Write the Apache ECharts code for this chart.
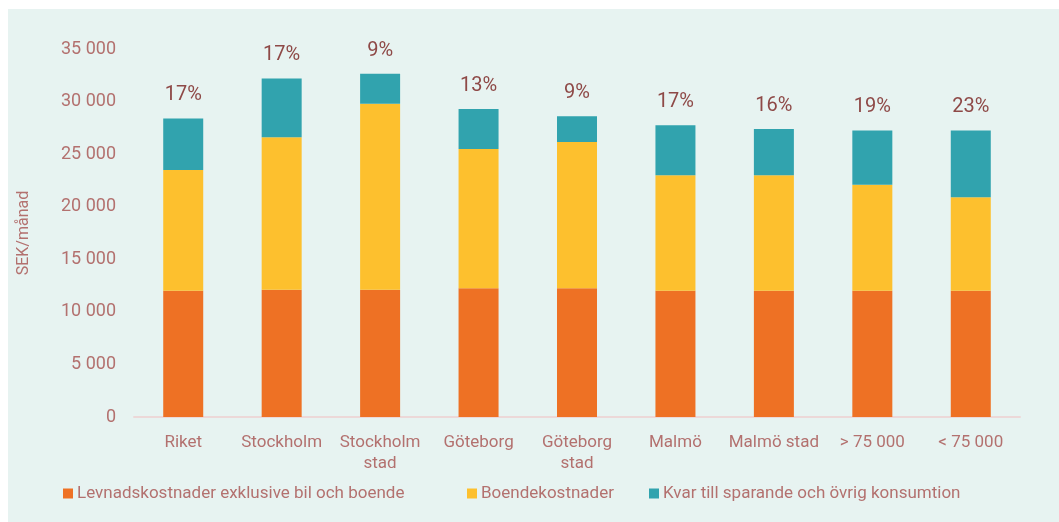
<!DOCTYPE html>
<html>
<head>
<meta charset="utf-8">
<script src="https://cdn.jsdelivr.net/npm/echarts@6/dist/echarts.min.js"></script>
<style>
  html, body { margin: 0; padding: 0; background: #ffffff; }
  #chart { position: absolute; left: 8px; top: 9px; width: 1051px; height: 513px; }
</style>
</head>
<body>
<div id="chart"></div>
<script>
"use strict";

// categories on the x axis
var categories = ["Riket", "Stockholm", "Stockholm\nstad", "Göteborg", "Göteborg\nstad",
  "Malmö", "Malmö stad", "> 75 000", "< 75 000"];

// SEK per month, stacked
var levnad = [12000, 12100, 12100, 12250, 12250, 12000, 12000, 12000, 12000];
var boende = [11500, 14500, 17700, 13250, 13900, 11000, 11000, 10100, 8900];
var kvar = [4900, 5600, 2850, 3800, 2450, 4750, 4400, 5150, 6350];

// share left over, shown above each bar
var shareLabels = ["17%", "17%", "9%", "13%", "9%", "17%", "16%", "19%", "23%"];

var seriesNames = ["Levnadskostnader exklusive bil och boende", "Boendekostnader",
  "Kvar till sparande och övrig konsumtion"];

var axisColor = "#b3716f";
var font = "Roboto, 'Noto Sans', sans-serif";

var chart = echarts.init(document.getElementById("chart"));

// one legend per item so the uneven gaps of the original can be kept
function legendAt(name, left) {
  return {
    data: [name],
    left: left,
    top: 476,
    padding: 0,
    icon: "rect",
    itemWidth: 10,
    itemHeight: 10,
    itemGap: 0,
    textStyle: { color: axisColor, fontSize: 17, fontFamily: font, padding: [0, 0, 0, -1] }
  };
}

var option = {
  backgroundColor: "#e7f3f1",
  animation: false,
  grid: { left: 126, right: 39, top: 40, bottom: 105 },
  legend: [
    legendAt(seriesNames[0], 55),
    legendAt(seriesNames[1], 459),
    legendAt(seriesNames[2], 641)
  ],
  xAxis: {
    type: "category",
    data: categories,
    axisTick: { show: false },
    axisLine: { lineStyle: { color: "#ecd8d8", width: 2 } },
    axisLabel: { interval: 0, color: axisColor, fontSize: 17, fontFamily: font, margin: 15, lineHeight: 21 }
  },
  yAxis: {
    type: "value",
    min: 0,
    max: 35000,
    interval: 5000,
    name: "SEK/månad",
    nameLocation: "middle",
    nameRotate: 90,
    nameGap: 102,
    nameTextStyle: { color: axisColor, fontSize: 16, fontFamily: font },
    axisLine: { show: false },
    axisTick: { show: false },
    splitLine: { show: false },
    axisLabel: {
      color: axisColor,
      fontSize: 18,
      fontFamily: font,
      margin: 18,
      formatter: function (v) {
        return String(v).replace(/\B(?=(\d{3})+(?!\d))/g, " ");
      }
    }
  },
  series: [
    {
      name: seriesNames[0],
      type: "bar",
      stack: "total",
      barWidth: 40,
      data: levnad,
      itemStyle: { color: "#ee7124" }
    },
    {
      name: seriesNames[1],
      type: "bar",
      stack: "total",
      barWidth: 40,
      data: boende,
      itemStyle: { color: "#fdc02e" }
    },
    {
      name: seriesNames[2],
      type: "bar",
      stack: "total",
      barWidth: 40,
      data: kvar,
      itemStyle: { color: "#31a3ae" },
      label: {
        show: true,
        position: "top",
        distance: 13,
        color: "#8e4947",
        fontSize: 20,
        fontFamily: font,
        formatter: function (p) {
          return shareLabels[p.dataIndex];
        }
      }
    }
  ]
};

chart.setOption(option);
</script>
</body>
</html>
